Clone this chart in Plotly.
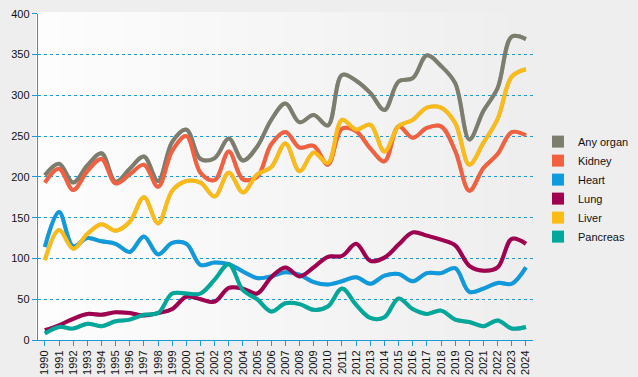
import plotly.graph_objects as go

years = [str(y) for y in range(1990, 2025)]

any_organ = [202, 216, 193, 214, 229, 194, 210, 225, 195, 243, 258, 222, 223, 247, 220, 237, 270, 290, 267, 276, 263,
             325, 318, 303, 282, 317, 321, 349, 336, 315, 246, 281, 309, 372, 369]
kidney = [193, 210, 184, 207, 222, 192, 203, 215, 188, 232, 250, 205, 196, 231, 197, 200, 240, 255, 236, 238, 215,
          259, 256, 235, 219, 262, 248, 260, 262, 232, 183, 211, 228, 255, 251]
heart = [114, 157, 115, 125, 121, 118, 108, 127, 105, 119, 118, 92, 95, 93, 84, 76, 78, 83, 80, 71, 68,
         72, 77, 69, 79, 81, 72, 82, 82, 88, 59, 63, 70, 69, 89]
lung = [12, 18, 26, 32, 31, 34, 33, 30, 33, 38, 53, 50, 47, 64, 63, 57, 77, 89, 78, 89, 102,
        103, 118, 97, 101, 117, 132, 128, 123, 116, 91, 85, 89, 124, 118]
liver = [98, 135, 112, 130, 142, 134, 145, 175, 143, 183, 195, 193, 176, 205, 181, 203, 212, 241, 207, 230, 217,
         270, 258, 264, 231, 262, 270, 285, 285, 266, 215, 242, 271, 323, 332]
pancreas = [8, 16, 14, 20, 17, 23, 25, 31, 33, 57, 57, 57, 74, 93, 61, 50, 35, 45, 44, 37, 41,
            63, 43, 27, 28, 51, 38, 32, 36, 25, 22, 17, 24, 14, 16]

series = [
    ("Any organ", any_organ, "#7d7d6e"),
    ("Kidney", kidney, "#f2603f"),
    ("Heart", heart, "#109ade"),
    ("Lung", lung, "#a00050"),
    ("Liver", liver, "#fdbb16"),
    ("Pancreas", pancreas, "#00a89c"),
]
y_ticks = list(range(0, 401, 50))

W, H = 638, 377
ml, mr, mt, mb = 36, 105, 12, 37
pw, ph = W - ml - mr, H - mt - mb
dx = 1.8 / pw
dy = 1.8 / ph

fig = go.Figure()

# shadows on the base (hidden, slightly offset) axes
for name, vals, col in series:
    fig.add_trace(go.Scatter(x=years, y=vals, mode="lines", xaxis="x", yaxis="y",
                             line=dict(color="rgba(120,120,120,0.5)", width=4, shape="spline", smoothing=1.0),
                             showlegend=False, hoverinfo="skip"))
# main lines on the visible overlay axes
for name, vals, col in series:
    fig.add_trace(go.Scatter(x=years, y=vals, name=name, mode="lines", xaxis="x2", yaxis="y2",
                             line=dict(color=col, width=4, shape="spline", smoothing=1.0),
                             showlegend=False))
# legend entries with square swatches
for name, vals, col in series:
    fig.add_trace(go.Scatter(x=[None], y=[None], name=name, mode="markers", xaxis="x2", yaxis="y2",
                             marker=dict(color=col, symbol="square", size=10), showlegend=True))

# gradient background stripes
shapes = []
n = 40
for i in range(n):
    t = i / (n - 1)
    c = int(round(253 - t * (253 - 238)))
    shapes.append(dict(type="rect", xref="paper", yref="paper",
                       x0=i / n, x1=(i + 1) / n + 0.001, y0=0, y1=1,
                       fillcolor=f"rgb({c},{c},{c})", line=dict(width=0), layer="below"))

axis_blue = "#1a9ad6"
fig.update_layout(
    width=W, height=H,
    margin=dict(l=ml, r=mr, t=mt, b=mb, autoexpand=False),
    paper_bgcolor="#eeeeee",
    plot_bgcolor="rgba(0,0,0,0)",
    font=dict(family="Liberation Sans, Arial, sans-serif", size=11, color="#111111"),
    shapes=shapes,
    showlegend=True,
    legend=dict(x=1.01, y=0.46, xanchor="left", yanchor="middle",
                bgcolor="rgba(0,0,0,0)", font=dict(size=11), itemsizing="constant",
                tracegroupgap=0),
    xaxis=dict(type="category", domain=[dx, 1], range=[-0.5, 34.5], visible=False,
               anchor="y", fixedrange=True),
    yaxis=dict(domain=[0, 1 - dy], range=[0, 400], visible=False, anchor="x", fixedrange=True),
    xaxis2=dict(type="category", domain=[0, 1 - dx], range=[-0.5, 34.5], tickangle=-90,
                overlaying="x", anchor="y2", automargin=False,
                showline=True, linecolor=axis_blue, linewidth=1, ticks="outside", ticklen=5,
                tickcolor=axis_blue, showgrid=False, zeroline=False, fixedrange=True,
                tickfont=dict(size=11)),
    yaxis2=dict(domain=[dy, 1], range=[0, 400], tickvals=y_ticks, overlaying="y", anchor="x2",
                automargin=False, showline=True,
                linecolor=axis_blue, linewidth=1, ticks="outside", ticklen=5, tickcolor=axis_blue,
                showgrid=True, gridcolor=axis_blue, griddash="dot", gridwidth=1, zeroline=False,
                tickfont=dict(size=11), fixedrange=True),
)

fig.write_html("out.html", config={"displayModeBar": False},
               post_script="document.body.style.margin='0';document.body.style.background='#eeeeee';")
